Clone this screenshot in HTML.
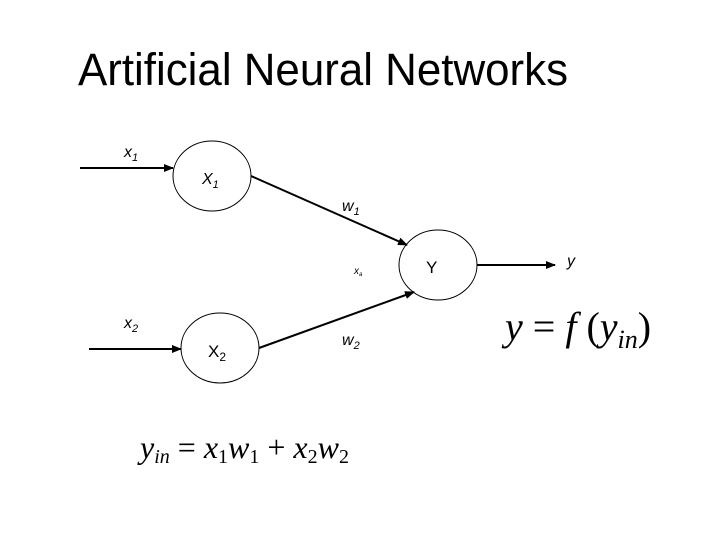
<!DOCTYPE html>
<html><head><meta charset="utf-8"><style>
html,body{margin:0;padding:0;background:#fff;}
svg{display:block;}
</style></head><body>
<svg width="720" height="540" viewBox="0 0 720 540" xmlns="http://www.w3.org/2000/svg">
<defs><marker id="a" markerWidth="10" markerHeight="8" refX="9" refY="4" orient="auto" markerUnits="userSpaceOnUse"><path d="M0,0 L10,4 L0,8 z" fill="#000"/></marker></defs>
<rect width="720" height="540" fill="#fff"/>
<text x="78" y="85" font-family="Liberation Sans, sans-serif" font-size="45" textLength="490" lengthAdjust="spacingAndGlyphs">Artificial Neural Networks</text>
<g fill="none" stroke="#000" stroke-width="1">
<ellipse cx="212" cy="176" rx="39" ry="35"/>
<ellipse cx="220" cy="348" rx="39" ry="35"/>
<ellipse cx="438" cy="265" rx="39" ry="35"/>
</g>
<g stroke="#000" stroke-width="2" marker-end="url(#a)">
<line x1="80" y1="168" x2="173" y2="168"/>
<line x1="89" y1="349" x2="181" y2="349"/>
<line x1="251" y1="176" x2="407" y2="245"/>
<line x1="259" y1="348" x2="414" y2="292"/>
<line x1="477" y1="265" x2="555" y2="265"/>
</g>
<g font-family="Liberation Sans, sans-serif" font-size="16" font-style="italic">
<text x="124" y="157">x<tspan font-size="11" dy="4">1</tspan></text>
<text x="202" y="184">X<tspan font-size="11" dy="4">1</tspan></text>
<text x="342" y="211">w<tspan font-size="11" dy="4">1</tspan></text>
<text x="124" y="328">x<tspan font-size="11" dy="4">2</tspan></text>
<text x="342" y="345">w<tspan font-size="11" dy="4">2</tspan></text>
<text x="567" y="266">y</text>
<text x="354" y="274" font-size="10">x<tspan font-size="6" dy="2">a</tspan></text>
</g>
<g font-family="Liberation Sans, sans-serif" font-size="17">
<text x="208" y="357">X<tspan font-size="12" dy="4">2</tspan></text>
<text x="426" y="273">Y</text>
</g>
<text x="505" y="340" font-family="Liberation Serif, serif" font-size="40"><tspan font-style="italic">y</tspan> = <tspan font-style="italic">f</tspan> (<tspan font-style="italic">y</tspan><tspan font-style="italic" font-size="26" dy="8">in</tspan><tspan dy="-8">)</tspan></text>
<text x="140" y="458" font-family="Liberation Serif, serif" font-size="32"><tspan font-style="italic">y</tspan><tspan font-style="italic" font-size="20" dy="5">in</tspan><tspan dy="-5"> = </tspan><tspan font-style="italic">x</tspan><tspan font-size="20" dy="5">1</tspan><tspan font-style="italic" dy="-5">w</tspan><tspan font-size="20" dy="5">1</tspan><tspan dy="-5"> + </tspan><tspan font-style="italic">x</tspan><tspan font-size="20" dy="5">2</tspan><tspan font-style="italic" dy="-5">w</tspan><tspan font-size="20" dy="5">2</tspan></text>
</svg>
</body></html>
